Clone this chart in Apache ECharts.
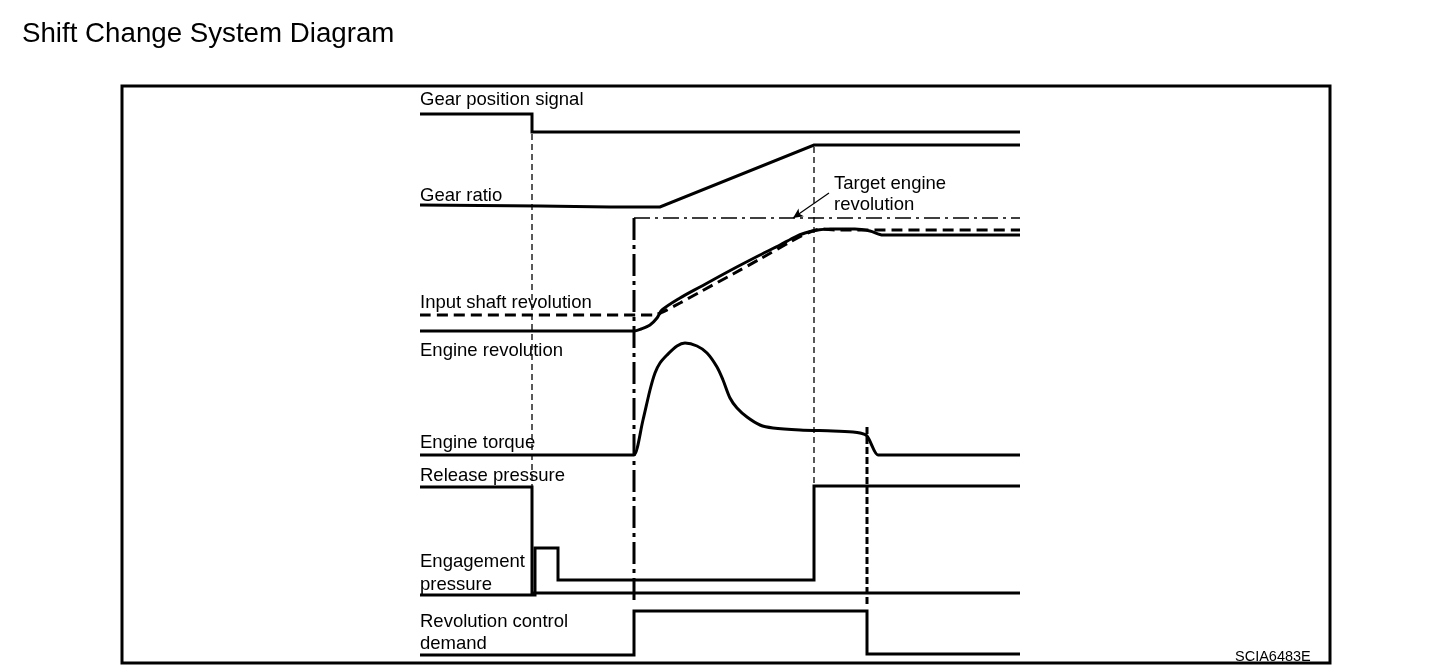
<!DOCTYPE html>
<html>
<head>
<meta charset="utf-8">
<script src="https://cdn.jsdelivr.net/npm/echarts@6/dist/echarts.min.js"></script>
<style>
html,body{margin:0;padding:0;background:#fff;}
#chart{width:1456px;height:672px;}
</style>
</head>
<body>
<div id="chart"></div>
<script>
// ---- Data (time units along x, signal level units along y) ----
const gearPosition = [[0,549],[112,549],[112,531],[600,531]];
const gearRatio = [[0,458],[120,457],[190,456],[240,456],[394,518],[600,518]];
const targetEngineRev = [[214,445],[600,445]];
const inputShaftRev = [[0,348],[236,348],[238,349],[243,351],[260,360],[280,371],[313,389],[340,404],[370,421],[390,431],[402,434],[415,433],[420,433],[600,433]];
const engineRev = [[0,332],[212,332],[214,332],[221,334],[230,338],[237,345],[242,353],[260,365],[280,376],[313,394],[340,408],[360,418],[375,426],[385,430],[395,432.5],[410,434],[435,434],[450,432],[463,428],[467,428],[600,428]];
const engineTorque = [[0,208],[212,208],[214,208],[223,243],[230,273],[235,290],[240,300],[247,308],[257,317],[265,320],[277,317],[287,310],[297,296],[303,283],[310,265],[317,255],[327,246],[340,238],[353,235],[380,233],[413,232],[433,231],[440,230],[447,227],[458,208],[460,208],[600,208]];
const releasePressure = [[0,176],[112,176],[112,70],[600,70]];
const engagementPressure = [[0,68],[115,68],[115,115],[138,115],[138,83],[394,83],[394,177],[600,177]];
const revControlDemand = [[0,8],[214,8],[214,52],[447,52],[447,9],[600,9]];
// timing guide lines
const guideShiftStart = [[112,529],[112,177]];
const guideRatioEnd = [[394,516],[394,177]];
const guideControlStart = [[214,445],[214,58]];
const guideControlEnd = [[447,236],[447,58]];
const targetArrow = [[409,470],[373,445]];

const signalLabels = ['Gear position signal','Gear ratio','Input shaft revolution','Engine revolution','Engine torque','Release pressure','Engagement','pressure','Revolution control','demand'];
const annotationLabels = ['Target engine','revolution'];
const titleText = 'Shift Change System Diagram';
const codeText = 'SCIA6483E';

const FONT = '"Liberation Sans", Arial, Helvetica, sans-serif';
const chart = echarts.init(document.getElementById('chart'), null, {renderer:'canvas'});

function solid(name, data, smooth){
  return {type:'line', name, data, showSymbol:false, symbol:'none', clip:false, silent:true,
    smooth: smooth || false,
    lineStyle:{color:'#000', width:3, join:'miter', cap:'butt'}, animation:false, z:3};
}
function dashed(name, data, w, dash, z, smooth){
  return {type:'line', name, data, showSymbol:false, symbol:'none', clip:false, silent:true,
    smooth: smooth || false,
    lineStyle:{color:'#000', width:w, type:dash, cap:'butt'}, animation:false, z:z||2};
}

const labelPos = [[420,100],[420,196],[420,303],[420,351],[420,443],[420,476],[420,562],[420,585],[420,622],[420,644]];
const annPos = [[834,184],[834,205]];

const graphic = [
  {type:'rect', shape:{x:122,y:86,width:1208,height:577}, style:{fill:null, stroke:'#000', lineWidth:3}, silent:true, z:10},
  {type:'text', x:22, y:34, style:{text:titleText, font:'27.7px '+FONT, fill:'#000', textVerticalAlign:'middle'}, silent:true}
];
signalLabels.forEach((t,i)=>graphic.push({type:'text', x:labelPos[i][0], y:labelPos[i][1],
  style:{text:t, font:'18.5px '+FONT, fill:'#000', textVerticalAlign:'middle'}, silent:true, z:20}));
annotationLabels.forEach((t,i)=>graphic.push({type:'text', x:annPos[i][0], y:annPos[i][1],
  style:{text:t, font:'18.5px '+FONT, fill:'#000', textVerticalAlign:'middle'}, silent:true, z:20}));
graphic.push({type:'text', x:1235, y:657, style:{text:codeText, font:'14.5px '+FONT, fill:'#000', textVerticalAlign:'middle'}, silent:true});

chart.setOption({
  animation:false,
  backgroundColor:'#fff',
  grid:{left:420, right:436, top:85, bottom:9, containLabel:false},
  xAxis:{type:'value', min:0, max:600, show:false},
  yAxis:{type:'value', min:0, max:578, show:false},
  graphic: graphic,
  series:[
    solid('Gear position signal', gearPosition),
    solid('Gear ratio', gearRatio),
    dashed('Target engine revolution', targetEngineRev, 1.3, [16,5,3,5]),
    dashed('Input shaft revolution', inputShaftRev, 3, [11,6], 3, 0.3),
    solid('Engine revolution', engineRev, 0.3),
    solid('Engine torque', engineTorque, 0.3),
    solid('Release pressure', releasePressure),
    solid('Engagement pressure', engagementPressure),
    solid('Revolution control demand', revControlDemand),
    dashed('guide1', guideShiftStart, 1.3, [6,4], 1),
    dashed('guide2', guideRatioEnd, 1.3, [6,4], 1),
    dashed('guide3', guideControlStart, 3, [22,5,4,5], 2),
    dashed('guide4', guideControlEnd, 3, [7,3], 2),
    {type:'line', data:[], silent:true, animation:false,
      markLine:{silent:true, animation:false, symbol:['none','arrow'], symbolSize:[7,10],
        label:{show:false}, lineStyle:{color:'#000', width:1.2, type:'solid'},
        data:[[{coord:targetArrow[0]},{coord:targetArrow[1]}]]}}
  ]
});
</script>
</body>
</html>
